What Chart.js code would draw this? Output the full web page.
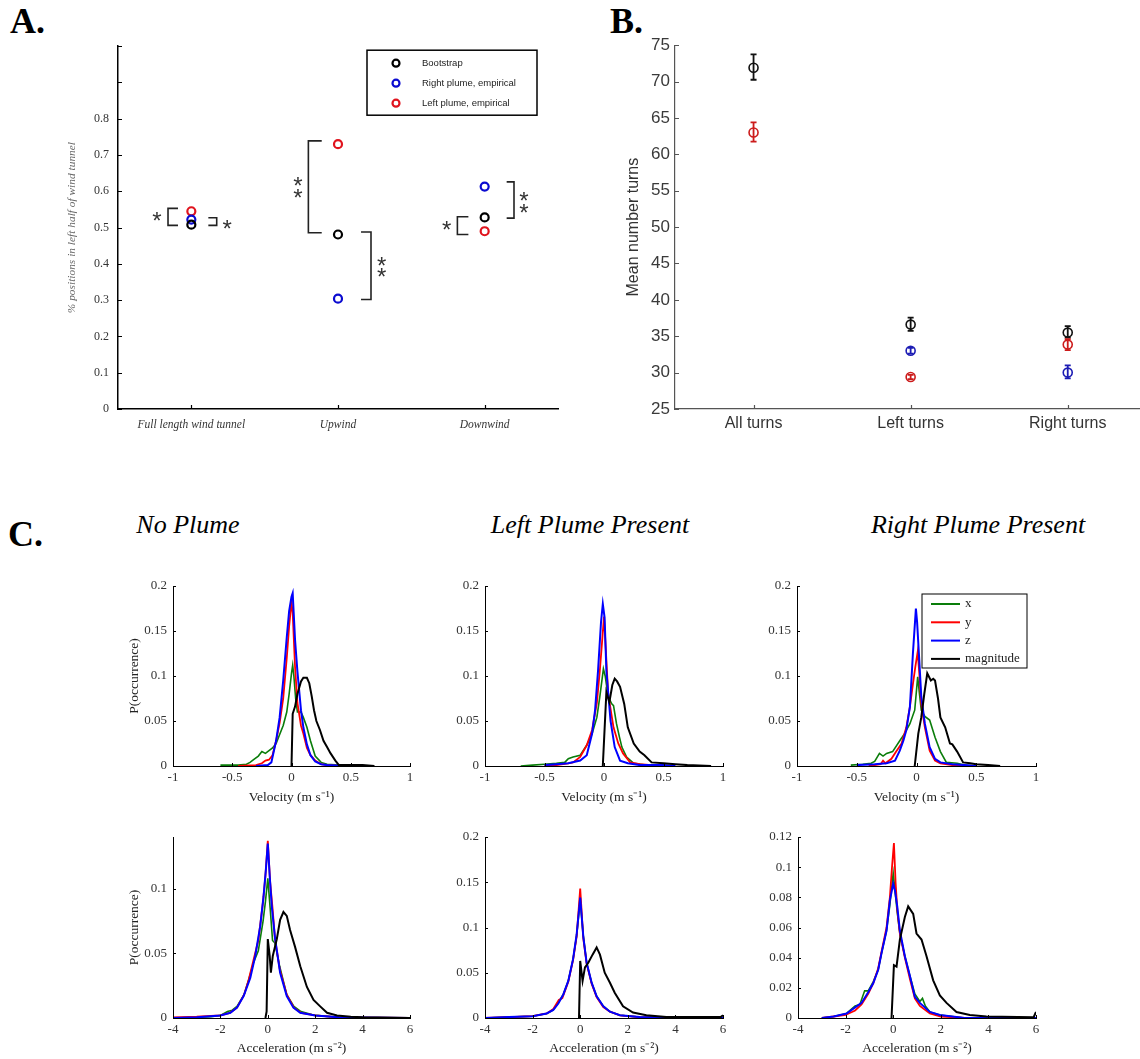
<!DOCTYPE html>
<html>
<head>
<meta charset="utf-8">
<script src="https://cdn.jsdelivr.net/npm/chart.js@4.4.0/dist/chart.umd.min.js"></script>
<style>
  body { margin: 0; background: #fff; width: 1140px; height: 1059px; position: relative; overflow: hidden; }
  canvas { position: absolute; }
  .lbl { position: absolute; font-family: "Liberation Serif", serif; font-weight: bold; font-size: 36px; line-height: 1; color: #000; }
  .ttl { position: absolute; font-family: "Liberation Serif", serif; font-style: italic; font-size: 26px; line-height: 1; color: #000; transform: translateX(-50%); white-space: nowrap; }
</style>
</head>
<body>
<div class="lbl" style="left:10px;top:3px">A.</div>
<div class="lbl" style="left:610px;top:3px">B.</div>
<div class="lbl" style="left:8px;top:516px">C.</div>
<div class="ttl" style="left:188px;top:512px">No Plume</div>
<div class="ttl" style="left:590px;top:512px">Left Plume Present</div>
<div class="ttl" style="left:978px;top:512px">Right Plume Present</div>

<script>
// ---------- panel A: share of positions in left half ----------
const catsA = ['Full length wind tunnel', 'Upwind', 'Downwind'];
const bootstrapA = [0.508, 0.481, 0.528];
const rightPlumeA = [0.522, 0.304, 0.613];
const leftPlumeA = [0.545, 0.730, 0.490];
const legendA = ['Bootstrap', 'Right plume, empirical', 'Left plume, empirical'];
// significance brackets: [spine x, tip x, y top, y bottom] in data units
const bracketsA = [
  [0.341, 0.409, 0.553, 0.506],
  [0.673, 0.616, 0.527, 0.506],
  [1.298, 1.389, 0.739, 0.486],
  [1.725, 1.657, 0.488, 0.302],
  [2.700, 2.650, 0.626, 0.526],
  [2.314, 2.389, 0.530, 0.481]
];
const starsA = [
  [0.266, 0.531], [0.745, 0.509],
  [1.227, 0.626], [1.227, 0.595],
  [1.798, 0.406], [1.798, 0.375],
  [2.768, 0.586], [2.768, 0.554],
  [2.241, 0.506]
];

// ---------- panel B: mean number of turns ----------
const catsB = ['All turns', 'Left turns', 'Right turns'];
const bootB = [71.9, 36.6, 35.5];
const bootErrB = [[70.25, 73.75], [35.75, 37.55], [34.8, 36.4]];
const leftPlumeB = [63.0, 29.4, 33.85];
const leftErrB = [[61.75, 64.4], [29.1, 29.7], [33.1, 34.6]];
const rightPlumeB = [null, 33.0, 30.0];
const rightErrB = [null, [32.6, 33.4], [29.2, 31.0]];

// ---------- panel C: velocity histograms [value, P] ----------
const legendC = ['x', 'y', 'z', 'magnitude'];

const velNoneX = [[-0.6,0.001],[-0.45,0.001],[-0.38,0.002],[-0.35,0.004],[-0.32,0.007],[-0.28,0.011],[-0.25,0.016],[-0.22,0.014],[-0.19,0.017],[-0.16,0.02],[-0.13,0.025],[-0.1,0.035],[-0.07,0.045],[-0.04,0.06],[-0.02,0.08],[0,0.103],[0.01,0.112],[0.02,0.1],[0.035,0.075],[0.05,0.06],[0.08,0.06],[0.1,0.054],[0.13,0.043],[0.16,0.028],[0.2,0.011],[0.25,0.004],[0.3,0.002],[0.4,0.001],[0.5,0]];
const velNoneY = [[-0.45,0],[-0.3,0.001],[-0.25,0.003],[-0.22,0.006],[-0.19,0.007],[-0.16,0.012],[-0.13,0.028],[-0.1,0.048],[-0.07,0.075],[-0.04,0.12],[-0.02,0.155],[0,0.182],[0.01,0.17],[0.03,0.11],[0.05,0.07],[0.08,0.045],[0.1,0.036],[0.13,0.02],[0.16,0.012],[0.2,0.006],[0.25,0.002],[0.3,0.001],[0.4,0]];
const velNoneZ = [[-0.3,0],[-0.2,0.001],[-0.17,0.004],[-0.13,0.028],[-0.1,0.054],[-0.07,0.095],[-0.04,0.143],[-0.02,0.172],[0,0.188],[0.01,0.192],[0.03,0.14],[0.05,0.105],[0.08,0.062],[0.1,0.043],[0.13,0.024],[0.16,0.012],[0.2,0.005],[0.25,0.002],[0.3,0.001],[0.45,0]];
const velNoneMag = [[0,0],[0.01,0.058],[0.03,0.066],[0.05,0.08],[0.08,0.094],[0.1,0.098],[0.13,0.098],[0.15,0.092],[0.17,0.078],[0.19,0.062],[0.21,0.05],[0.24,0.04],[0.27,0.028],[0.3,0.021],[0.33,0.014],[0.37,0.006],[0.4,0.001],[0.5,0.001],[0.6,0.001],[0.7,0]];

const velLeftX = [[-0.7,0],[-0.6,0.001],[-0.5,0.002],[-0.4,0.003],[-0.33,0.004],[-0.3,0.008],[-0.26,0.01],[-0.2,0.012],[-0.17,0.018],[-0.145,0.023],[-0.1,0.036],[-0.06,0.054],[-0.035,0.077],[-0.005,0.108],[0.01,0.1],[0.035,0.077],[0.065,0.069],[0.08,0.067],[0.105,0.047],[0.13,0.032],[0.15,0.021],[0.19,0.01],[0.25,0.003],[0.35,0.001],[0.5,0]];
const velLeftY = [[-0.5,0],[-0.4,0.001],[-0.3,0.003],[-0.26,0.004],[-0.2,0.01],[-0.145,0.023],[-0.1,0.04],[-0.06,0.07],[-0.035,0.106],[-0.015,0.14],[0,0.166],[0.015,0.13],[0.035,0.08],[0.08,0.043],[0.12,0.025],[0.16,0.014],[0.22,0.004],[0.3,0.002],[0.4,0.001],[0.5,0]];
const velLeftZ = [[-0.5,0.001],[-0.4,0.002],[-0.3,0.003],[-0.2,0.006],[-0.145,0.012],[-0.1,0.036],[-0.075,0.062],[-0.05,0.106],[-0.025,0.16],[-0.01,0.18],[0.005,0.165],[0.02,0.106],[0.055,0.05],[0.09,0.021],[0.135,0.006],[0.2,0.003],[0.3,0.001],[0.5,0.001],[0.6,0]];
const velLeftMag = [[-0.01,0],[0.02,0.082],[0.045,0.071],[0.07,0.09],[0.09,0.097],[0.11,0.094],[0.135,0.088],[0.17,0.069],[0.2,0.043],[0.25,0.025],[0.3,0.016],[0.34,0.012],[0.4,0.004],[0.5,0.003],[0.6,0.002],[0.7,0.001],[0.9,0]];

const velRightX = [[-0.55,0.001],[-0.45,0.002],[-0.38,0.003],[-0.35,0.005],[-0.31,0.014],[-0.28,0.011],[-0.25,0.014],[-0.2,0.016],[-0.14,0.028],[-0.1,0.036],[-0.055,0.047],[-0.015,0.062],[0.01,0.099],[0.025,0.08],[0.04,0.062],[0.07,0.055],[0.11,0.051],[0.155,0.032],[0.2,0.016],[0.25,0.004],[0.34,0.003],[0.4,0.001],[0.5,0]];
const velRightY = [[-0.4,0],[-0.3,0.002],[-0.28,0.006],[-0.26,0.003],[-0.21,0.008],[-0.17,0.016],[-0.125,0.025],[-0.085,0.043],[-0.055,0.066],[-0.03,0.091],[-0.01,0.11],[0.01,0.127],[0.025,0.1],[0.04,0.069],[0.07,0.043],[0.11,0.017],[0.155,0.006],[0.2,0.003],[0.3,0.001],[0.4,0]];
const velRightZ = [[-0.5,0.001],[-0.35,0.002],[-0.25,0.003],[-0.18,0.006],[-0.14,0.017],[-0.11,0.028],[-0.085,0.04],[-0.055,0.066],[-0.03,0.125],[-0.005,0.175],[0.005,0.16],[0.02,0.125],[0.04,0.077],[0.07,0.047],[0.11,0.021],[0.155,0.008],[0.2,0.004],[0.3,0.002],[0.4,0.001],[0.5,0]];
const velRightMag = [[-0.015,0],[0.015,0.036],[0.04,0.054],[0.065,0.08],[0.09,0.103],[0.12,0.095],[0.14,0.097],[0.155,0.095],[0.18,0.075],[0.2,0.054],[0.24,0.043],[0.28,0.025],[0.3,0.024],[0.34,0.016],[0.39,0.004],[0.45,0.003],[0.5,0.002],[0.6,0.001],[0.7,0]];

// ---------- panel C: acceleration histograms [value, P] ----------
const accNoneX = [[-4,0],[-3,0.0005],[-2.4,0.001],[-2,0.002],[-1.7,0.005],[-1.5,0.006],[-1.3,0.009],[-1,0.018],[-0.8,0.03],[-0.6,0.043],[-0.4,0.052],[-0.2,0.075],[-0.1,0.09],[0,0.108],[0.1,0.085],[0.2,0.06],[0.3,0.058],[0.5,0.04],[0.8,0.018],[1.1,0.009],[1.4,0.005],[2,0.002],[3,0.0005],[4,0]];
const accNoneY = [[-4,0.0005],[-3,0.001],[-2,0.002],[-1.6,0.004],[-1.3,0.008],[-1,0.018],[-0.8,0.03],[-0.6,0.045],[-0.4,0.06],[-0.2,0.09],[-0.1,0.11],[0,0.137],[0.1,0.105],[0.2,0.085],[0.3,0.062],[0.5,0.038],[0.8,0.018],[1.1,0.008],[1.4,0.004],[2,0.002],[3,0.0005],[6,0]];
const accNoneZ = [[-4,0],[-3,0.0005],[-2,0.002],[-1.58,0.004],[-1.3,0.008],[-1.02,0.017],[-0.74,0.031],[-0.53,0.048],[-0.32,0.071],[-0.18,0.094],[-0.08,0.115],[0,0.135],[0.08,0.11],[0.17,0.086],[0.31,0.061],[0.52,0.035],[0.8,0.017],[1.08,0.008],[1.37,0.004],[2,0.002],[3,0.0005],[6,0]];
const accNoneMag = [[-0.1,0],[-0.05,0.005],[0,0.061],[0.08,0.048],[0.13,0.035],[0.21,0.048],[0.38,0.061],[0.52,0.076],[0.66,0.082],[0.8,0.079],[0.94,0.068],[1.15,0.055],[1.37,0.04],[1.65,0.024],[1.93,0.014],[2.21,0.009],[2.5,0.004],[2.92,0.002],[3.5,0.001],[4,0.0005],[6,0]];

const accLeftX = [[-4,0],[-3,0.001],[-2,0.002],[-1.4,0.005],[-1.13,0.009],[-0.92,0.017],[-0.71,0.026],[-0.5,0.041],[-0.3,0.065],[-0.15,0.091],[0,0.13],[0.13,0.091],[0.27,0.061],[0.48,0.039],[0.69,0.024],[0.97,0.013],[1.25,0.007],[1.67,0.003],[2.5,0.001],[6,0]];
const accLeftY = [[-4,0],[-3,0.001],[-2,0.002],[-1.4,0.005],[-1.13,0.01],[-0.9,0.02],[-0.75,0.022],[-0.5,0.04],[-0.3,0.064],[-0.15,0.09],[0,0.143],[0.13,0.088],[0.27,0.06],[0.48,0.038],[0.69,0.023],[0.97,0.012],[1.25,0.007],[1.67,0.003],[2.5,0.001],[6,0]];
const accLeftZ = [[-4,0],[-3,0.001],[-2,0.002],[-1.41,0.005],[-1.13,0.009],[-0.92,0.016],[-0.71,0.026],[-0.5,0.041],[-0.3,0.065],[-0.15,0.092],[0,0.133],[0.13,0.09],[0.27,0.061],[0.48,0.039],[0.69,0.024],[0.97,0.013],[1.25,0.007],[1.67,0.003],[2.5,0.001],[6,0]];
const accLeftMag = [[-0.05,0],[0,0.063],[0.1,0.041],[0.2,0.056],[0.34,0.061],[0.52,0.07],[0.69,0.078],[0.83,0.07],[1.03,0.05],[1.25,0.039],[1.45,0.028],[1.8,0.013],[2.22,0.006],[2.78,0.003],[3.62,0.001],[5,0.001],[5.9,0.001],[6,0.003]];

const accRightX = [[-3,0],[-2.5,0.001],[-1.96,0.003],[-1.6,0.008],[-1.4,0.009],[-1.2,0.018],[-1.05,0.018],[-0.84,0.024],[-0.63,0.032],[-0.49,0.043],[-0.28,0.058],[-0.14,0.075],[0,0.096],[0.17,0.07],[0.28,0.056],[0.49,0.041],[0.7,0.028],[0.91,0.016],[1.12,0.011],[1.23,0.013],[1.35,0.008],[1.54,0.004],[1.96,0.002],[3,0],[6,0]];
const accRightY = [[-3,0],[-2.5,0.001],[-2,0.002],[-1.6,0.005],[-1.33,0.009],[-1.05,0.016],[-0.84,0.023],[-0.63,0.033],[-0.49,0.044],[-0.28,0.06],[-0.14,0.08],[-0.05,0.1],[0.03,0.116],[0.1,0.09],[0.17,0.072],[0.28,0.056],[0.49,0.04],[0.7,0.026],[0.91,0.013],[1.12,0.008],[1.54,0.003],[2,0.001],[3,0],[6,0]];
const accRightZ = [[-3,0],[-2.5,0.001],[-1.96,0.003],[-1.6,0.007],[-1.33,0.01],[-1.05,0.017],[-0.84,0.023],[-0.63,0.032],[-0.49,0.043],[-0.28,0.058],[-0.14,0.078],[0,0.089],[0.08,0.084],[0.17,0.074],[0.28,0.058],[0.49,0.041],[0.7,0.028],[0.91,0.014],[1.12,0.01],[1.54,0.004],[1.96,0.002],[3,0],[6,0]];
const accRightMag = [[-0.07,0],[0.03,0.035],[0.14,0.034],[0.28,0.052],[0.49,0.067],[0.63,0.074],[0.84,0.069],[0.98,0.056],[1.19,0.052],[1.4,0.041],[1.68,0.025],[1.96,0.015],[2.24,0.01],[2.66,0.004],[3.22,0.002],[3.92,0.001],[5.9,0.0005],[6,0.004]];

// ---------- shared setup ----------
const SERIF = '"Liberation Serif", "Times New Roman", serif';
const SANS = '"Liberation Sans", Arial, sans-serif';
const C_GREEN = '#0a7d0a', C_RED = '#ff0000', C_BLUE = '#0000ff', C_BLACK = '#000000';

Chart.defaults.animation = false;
Chart.defaults.events = [];
Chart.defaults.plugins.legend.display = false;
Chart.defaults.plugins.tooltip.enabled = false;

// tick marks drawn on the inside of the axes, like the MATLAB figures
const innerTicks = {
  id: 'innerTicks',
  defaults: { len: 4, color: '#000', width: 1 },
  afterDraw(chart, args, o) {
    const { ctx, chartArea: a, scales: { x, y } } = chart;
    ctx.save();
    ctx.strokeStyle = o.color;
    ctx.lineWidth = o.width;
    ctx.beginPath();
    x.ticks.forEach(t => {
      const px = Math.round(x.getPixelForValue(t.value)) + 0.5;
      ctx.moveTo(px, a.bottom);
      ctx.lineTo(px, a.bottom - o.len);
    });
    y.ticks.forEach(t => {
      const py = Math.round(y.getPixelForValue(t.value)) + 0.5;
      ctx.moveTo(a.left, py);
      ctx.lineTo(a.left + o.len, py);
    });
    ctx.stroke();
    ctx.restore();
  }
};

const errorBars = {
  id: 'errorBars',
  afterDatasetsDraw(chart) {
    const { ctx, scales: { x, y } } = chart;
    chart.data.datasets.forEach(ds => {
      if (!ds.errors) return;
      ctx.save();
      ctx.strokeStyle = ds.borderColor;
      ctx.lineWidth = 1.8;
      ds.errors.forEach((e, j) => {
        if (!e) return;
        const px = x.getPixelForValue(ds.data[j].x);
        const lo = y.getPixelForValue(e[0]), hi = y.getPixelForValue(e[1]);
        ctx.beginPath();
        ctx.moveTo(px, lo); ctx.lineTo(px, hi);
        ctx.moveTo(px - 3, lo); ctx.lineTo(px + 3, lo);
        ctx.moveTo(px - 3, hi); ctx.lineTo(px + 3, hi);
        ctx.stroke();
      });
      ctx.restore();
    });
  }
};

const sigMarks = {
  id: 'sigMarks',
  afterDatasetsDraw(chart, args, o) {
    if (!o.brackets) return;
    const { ctx, scales: { x, y } } = chart;
    ctx.save();
    ctx.strokeStyle = '#222';
    ctx.lineWidth = 1.6;
    o.brackets.forEach(([sx, tx, y0, y1]) => {
      ctx.beginPath();
      ctx.moveTo(x.getPixelForValue(tx), y.getPixelForValue(y0));
      ctx.lineTo(x.getPixelForValue(sx), y.getPixelForValue(y0));
      ctx.lineTo(x.getPixelForValue(sx), y.getPixelForValue(y1));
      ctx.lineTo(x.getPixelForValue(tx), y.getPixelForValue(y1));
      ctx.stroke();
    });
    ctx.font = '24px ' + SANS;
    ctx.fillStyle = '#333';
    ctx.textAlign = 'center';
    ctx.textBaseline = 'alphabetic';
    const m = ctx.measureText('*');
    const dy = (m.actualBoundingBoxAscent - m.actualBoundingBoxDescent) / 2;
    o.stars.forEach(([sx, sy]) => ctx.fillText('*', x.getPixelForValue(sx), y.getPixelForValue(sy) + dy));
    ctx.restore();
  }
};

const boxLegend = {
  id: 'boxLegend',
  afterDraw(chart, args, o) {
    if (!o.labels) return;
    const { ctx, chartArea: a } = chart;
    const bx = a.left + o.dx, by = a.top + o.dy;
    ctx.save();
    ctx.fillStyle = '#fff';
    ctx.fillRect(bx, by, o.w, o.h);
    ctx.strokeStyle = '#000';
    ctx.lineWidth = o.border;
    ctx.strokeRect(bx, by, o.w, o.h);
    ctx.font = o.font;
    ctx.textBaseline = 'middle';
    ctx.textAlign = 'left';
    o.labels.forEach((label, i) => {
      const cy = by + o.row0 + i * o.gap;
      ctx.strokeStyle = o.colors[i];
      ctx.beginPath();
      if (o.symbol === 'circle') {
        ctx.lineWidth = 2.2;
        ctx.arc(bx + o.sx, cy, 3.5, 0, Math.PI * 2);
      } else {
        ctx.lineWidth = 2;
        ctx.moveTo(bx + o.sx, cy);
        ctx.lineTo(bx + o.sx2, cy);
      }
      ctx.stroke();
      ctx.fillStyle = o.textColor;
      ctx.fillText(label, bx + o.tx, cy);
    });
    ctx.restore();
  }
};

Chart.register(innerTicks, errorBars, sigMarks, boxLegend);

function mount(c) {
  const el = document.createElement('canvas');
  el.width = c.w; el.height = c.h;
  el.style.left = c.l + 'px'; el.style.top = c.t + 'px';
  el.style.width = c.w + 'px'; el.style.height = c.h + 'px';
  document.body.appendChild(el);
  return el;
}

// canvas box c and plot box p in page pixels -> padding + axis sizes
function frame(c, p) {
  return {
    padding: { left: 0, top: p.t - c.t, right: c.l + c.w - p.r, bottom: 0 },
    yW: p.l - c.l,
    xH: c.t + c.h - p.b
  };
}

const trimNum = v => String(+v.toFixed(3));

// ---------- panel A ----------
(function () {
  const c = { l: 60, t: 30, w: 520, h: 430 };
  const f = frame(c, { l: 118, t: 42, r: 558, b: 409 });
  const pts = vals => vals.map((v, i) => ({ x: i + 0.5, y: v }));
  const ds = (label, vals, color) => ({
    label, data: pts(vals), borderColor: color, backgroundColor: 'rgba(0,0,0,0)',
    pointRadius: 4, pointBorderWidth: 2.2, pointBorderColor: color
  });
  new Chart(mount(c), {
    type: 'scatter',
    data: {
      datasets: [
        ds(legendA[0], bootstrapA, '#000000'),
        ds(legendA[1], rightPlumeA, '#0b0bd0'),
        ds(legendA[2], leftPlumeA, '#e0141e')
      ]
    },
    options: {
      responsive: false,
      layout: { padding: f.padding, autoPadding: false },
      scales: {
        x: {
          type: 'linear', min: 0, max: 3,
          afterFit: s => { s.height = f.xH; },
          afterBuildTicks: s => { s.ticks = catsA.map((_, i) => ({ value: i + 0.5 })); },
          ticks: {
            autoSkip: false, maxRotation: 0, padding: 9, color: '#333',
            font: { family: SERIF, size: 11.5, style: 'italic' },
            callback: v => catsA[Math.floor(v)]
          },
          grid: { display: false, drawTicks: false },
          border: { display: true, color: '#000', width: 1.5 }
        },
        y: {
          min: 0, max: 1,
          afterFit: s => { s.width = f.yW; },
          ticks: {
            stepSize: 0.1, padding: 9, color: '#333',
            font: { family: SERIF, size: 12 },
            callback: v => (v > 0.85 ? '' : trimNum(v))
          },
          grid: { display: false, drawTicks: false },
          border: { display: true, color: '#000', width: 1.5 },
          title: {
            display: true, text: '% positions in left half of wind tunnel', color: '#666',
            font: { family: SERIF, size: 11.4, style: 'italic' }, padding: { top: 5, bottom: 0 }
          }
        }
      },
      plugins: {
        innerTicks: { len: 4, color: '#000', width: 1.2 },
        sigMarks: { brackets: bracketsA, stars: starsA },
        boxLegend: {
          labels: legendA, colors: ['#000000', '#0b0bd0', '#e0141e'], symbol: 'circle',
          dx: 249, dy: 4, w: 170, h: 65, border: 1.5, row0: 13, gap: 20, sx: 29, tx: 55,
          font: '9.5px ' + SANS, textColor: '#222'
        }
      }
    }
  });
})();

// ---------- panel B ----------
(function () {
  const c = { l: 600, t: 30, w: 540, h: 420 };
  const f = frame(c, { l: 675, t: 41.7, r: 1140, b: 409 });
  const pts = vals => vals.map((v, i) => ({ x: i + 1, y: v }));
  const ds = (label, vals, errs, color) => ({
    label, data: pts(vals), errors: errs, borderColor: color, backgroundColor: 'rgba(0,0,0,0)',
    pointRadius: 4.5, pointBorderWidth: 1.6, pointBorderColor: color
  });
  new Chart(mount(c), {
    type: 'scatter',
    data: {
      datasets: [
        ds('Bootstrap', bootB, bootErrB, '#111111'),
        ds('Right plume', rightPlumeB, rightErrB, '#1c1cb4'),
        ds('Left plume', leftPlumeB, leftErrB, '#cc1b1b')
      ]
    },
    options: {
      responsive: false,
      layout: { padding: f.padding, autoPadding: false },
      scales: {
        x: {
          type: 'linear', min: 0.5, max: 3.46,
          afterFit: s => { s.height = f.xH; },
          afterBuildTicks: s => { s.ticks = catsB.map((_, i) => ({ value: i + 1 })); },
          ticks: {
            autoSkip: false, maxRotation: 0, padding: 5, color: '#333',
            font: { family: SANS, size: 16 },
            callback: v => catsB[Math.round(v) - 1]
          },
          grid: { display: false, drawTicks: false },
          border: { display: true, color: '#555', width: 1.2 }
        },
        y: {
          min: 25, max: 75,
          afterFit: s => { s.width = f.yW; },
          ticks: { stepSize: 5, padding: 5, color: '#3a3a3a', font: { family: SANS, size: 17 } },
          grid: { display: false, drawTicks: false },
          border: { display: true, color: '#555', width: 1.2 },
          title: {
            display: true, text: 'Mean number turns', color: '#333',
            font: { family: SANS, size: 16 }, padding: { top: 24, bottom: 0 }
          }
        }
      },
      plugins: { innerTicks: { len: 4, color: '#555', width: 1.2 } }
    }
  });
})();

// ---------- panel C ----------
function histPanel(c, p, xr, yr, series, xTitle, withYTitle, withLegend) {
  const f = frame(c, p);
  const colors = [C_GREEN, C_RED, C_BLUE, C_BLACK];
  const widths = [1.6, 1.8, 2, 2];
  const orders = [3, 2, 1, 0];
  const titleLH = 13.5 * 1.2;
  new Chart(mount(c), {
    type: 'scatter',
    data: {
      datasets: series.map((s, i) => ({
        label: legendC[i],
        data: s.map(([x, y]) => ({ x, y })),
        showLine: true, borderColor: colors[i], borderWidth: widths[i],
        pointRadius: 0, tension: 0, order: orders[i]
      }))
    },
    options: {
      responsive: false,
      layout: { padding: f.padding, autoPadding: false },
      scales: {
        x: {
          type: 'linear', min: xr[0], max: xr[1],
          afterFit: s => { s.height = f.xH; },
          ticks: {
            stepSize: xr[2], includeBounds: false, maxRotation: 0, autoSkip: false,
            padding: 4, color: '#333', font: { family: SERIF, size: 13 }, callback: trimNum
          },
          grid: { display: false, drawTicks: false },
          border: { display: true, color: '#000', width: 1 },
          title: {
            display: true, text: xTitle, color: '#222', font: { family: SERIF, size: 13.5 },
            padding: { top: 0, bottom: c.t + c.h - p.xt - titleLH / 2 }
          }
        },
        y: {
          min: 0, max: yr[0],
          afterFit: s => { s.width = f.yW; },
          ticks: {
            stepSize: yr[1], includeBounds: false, padding: 6, color: '#333',
            font: { family: SERIF, size: 13 }, callback: trimNum
          },
          grid: { display: false, drawTicks: false },
          border: { display: true, color: '#000', width: 1 },
          title: {
            display: withYTitle, text: 'P(occurrence)', color: '#222', font: { family: SERIF, size: 13.5 },
            padding: { top: 134 - c.l - titleLH / 2, bottom: 0 }
          }
        }
      },
      plugins: {
        innerTicks: { len: 3, color: '#000', width: 1 },
        boxLegend: withLegend ? {
          labels: legendC, colors, symbol: 'line',
          dx: 125, dy: 8, w: 105, h: 74, border: 1, row0: 10, gap: 18.3, sx: 9, sx2: 38, tx: 43,
          font: '13px ' + SERIF, textColor: '#222'
        } : {}
      }
    }
  });
}

const VEL_TITLE = 'Velocity (m s\u207B\u00B9)';
const ACC_TITLE = 'Acceleration (m s\u207B\u00B2)';

histPanel({ l: 120, t: 570, w: 310, h: 240 }, { l: 173, t: 586, r: 410, b: 766, xt: 797 },
  [-1, 1, 0.5], [0.2, 0.05], [velNoneX, velNoneY, velNoneZ, velNoneMag], VEL_TITLE, true, false);
histPanel({ l: 432, t: 570, w: 310, h: 240 }, { l: 485, t: 586, r: 723, b: 766, xt: 797 },
  [-1, 1, 0.5], [0.2, 0.05], [velLeftX, velLeftY, velLeftZ, velLeftMag], VEL_TITLE, false, false);
histPanel({ l: 744, t: 570, w: 310, h: 240 }, { l: 797, t: 586, r: 1036, b: 766, xt: 797 },
  [-1, 1, 0.5], [0.2, 0.05], [velRightX, velRightY, velRightZ, velRightMag], VEL_TITLE, false, true);

histPanel({ l: 120, t: 822, w: 310, h: 237 }, { l: 173, t: 837, r: 410, b: 1018, xt: 1048 },
  [-4, 6, 2], [0.14, 0.05], [accNoneX, accNoneY, accNoneZ, accNoneMag], ACC_TITLE, true, false);
histPanel({ l: 432, t: 822, w: 310, h: 237 }, { l: 485, t: 837, r: 723, b: 1018, xt: 1048 },
  [-4, 6, 2], [0.2, 0.05], [accLeftX, accLeftY, accLeftZ, accLeftMag], ACC_TITLE, false, false);
histPanel({ l: 744, t: 822, w: 310, h: 237 }, { l: 798, t: 837, r: 1036, b: 1018, xt: 1048 },
  [-4, 6, 2], [0.12, 0.02], [accRightX, accRightY, accRightZ, accRightMag], ACC_TITLE, false, false);
</script>
</body>
</html>
